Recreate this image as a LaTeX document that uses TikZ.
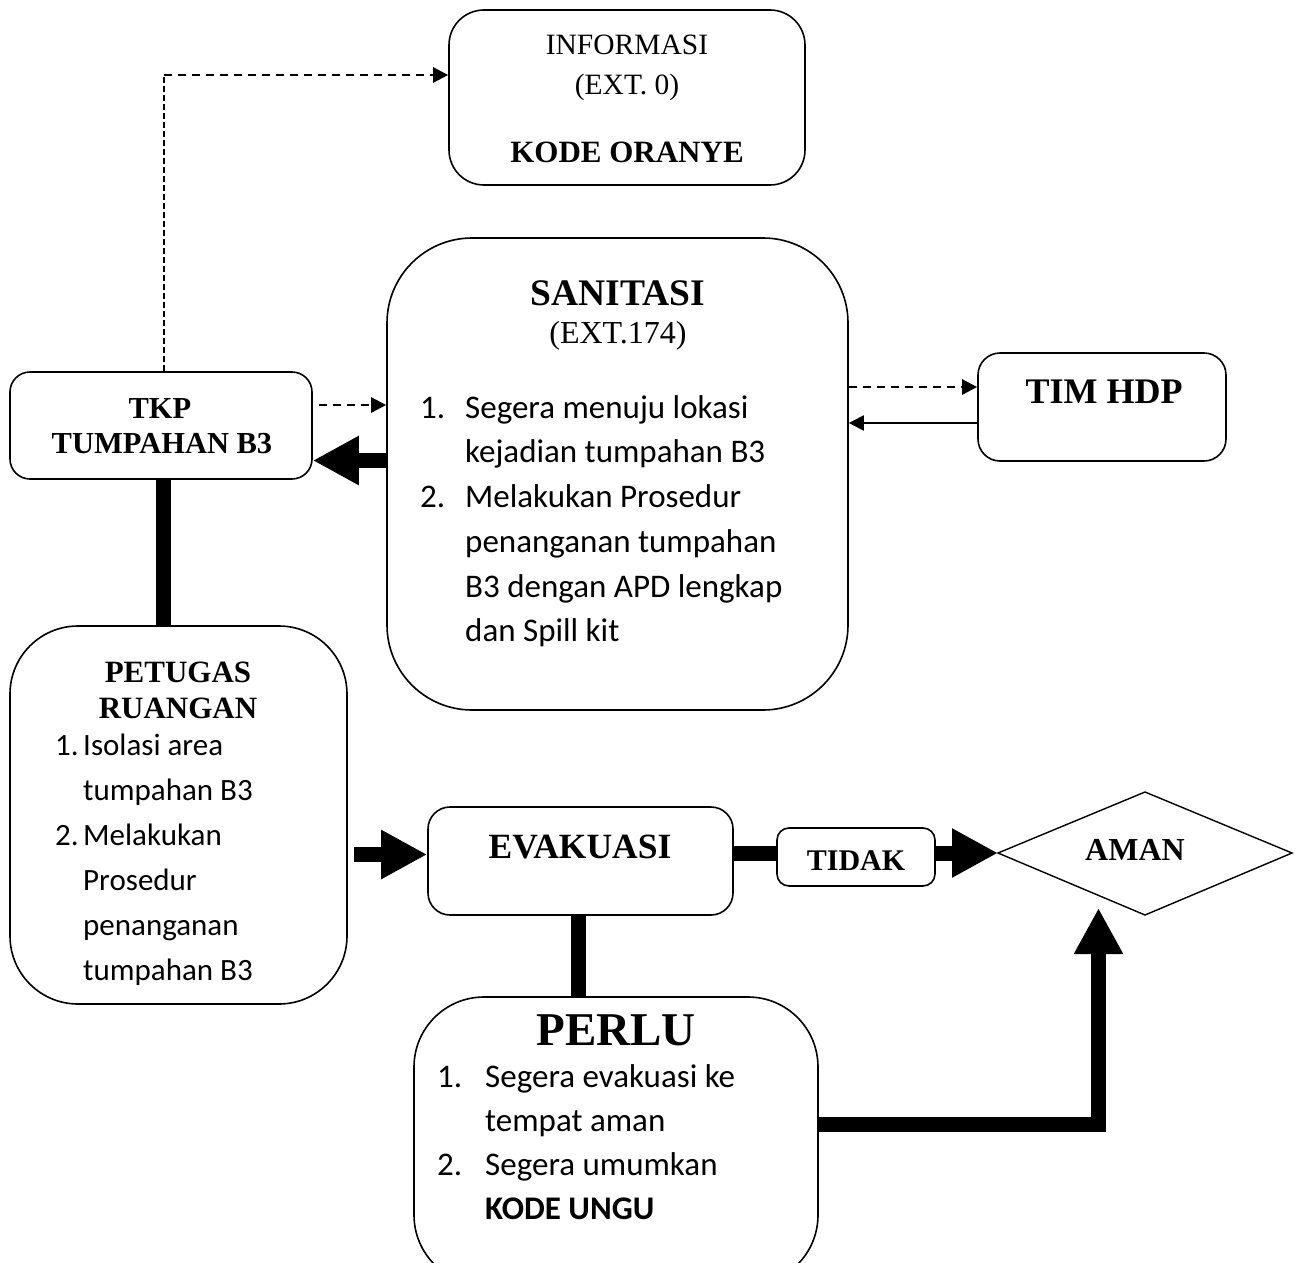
\documentclass[tikz,border=0pt]{standalone}
\usepackage{fontspec}
\setmainfont{Liberation Serif}
\newfontfamily\listfont{Carlito}
\usetikzlibrary{arrows.meta,calc}
\newcommand\setfs[1]{\fontsize{#1}{#1}\selectfont}
\begin{document}
\begin{tikzpicture}[x=1pt,y=-1pt,
  box/.style={draw, line width=1.6pt, rounded corners=#1, inner sep=0pt},
  head/.style={inner sep=0pt, anchor=base, font=\bfseries},
  plain/.style={inner sep=0pt, anchor=base},
  lst/.style={inner sep=0pt, anchor=base west, font=\listfont\setfs{#1}},
  dasharrow/.style={line width=2.4pt, dash pattern=on 8pt off 6pt,
    -{Triangle[length=15pt,width=15pt]}},
  thindash/.style={line width=1.2pt, dash pattern=on 6pt off 3pt},
  thinarrow/.style={line width=2pt, -{Triangle[length=15pt,width=15pt]}},
  bigarrow/.style={line width=15pt, -{Triangle[length=46pt,width=46pt]}},
  bigline/.style={line width=15pt}]
\useasboundingbox (0,0) rectangle (1301,1263);
\clip (0,0) rectangle (1301,1263);

% boxes
\node[box=35, minimum width=356pt, minimum height=175pt] (info) at (627,97.5) {};
\node[box=85, minimum width=461pt, minimum height=472pt] (san) at (617.5,474) {};
\node[box=22, minimum width=248pt, minimum height=108pt] (hdp) at (1102,407) {};
\node[box=20, minimum width=302pt, minimum height=107pt] (tkp) at (161,425.5) {};
\node[box=68, minimum width=337pt, minimum height=378pt] (pet) at (178.5,815) {};
\node[box=22, minimum width=305pt, minimum height=108pt] (evak) at (580.5,861) {};
\node[box=12, minimum width=158pt, minimum height=58pt] (tidak) at (856,857) {};
\node[box=70, minimum width=404pt, minimum height=288pt] (perlu) at (616,1141) {};

% decision diamond
\coordinate (aw) at (998,853);
\coordinate (an) at (1145,792);
\coordinate (ae) at (1292,853);
\coordinate (as) at (1145,915);
\draw[line width=1.4pt, line join=miter] (aw) -- (an) -- (ae) -- (as) -- cycle;
\node[head, font=\bfseries\setfs{32pt}] (aman) at (1135,860) {AMAN};

% box texts
\node[plain, font=\setfs{29.5pt}] (infoa) at (627,55) {INFORMASI};
\node[plain, font=\setfs{29.5pt}] (infob) at (627,95) {(EXT. 0)};
\node[head, font=\bfseries\setfs{31pt}] (infoc) at (627,162) {KODE ORANYE};

\node[head, font=\bfseries\setfs{37.5pt}] (sana) at (618,305) {SANITASI};
\node[plain, font=\setfs{32pt}] (sanb) at (618,343) {(EXT.174)};
\node[lst=33pt] (s1n) at (420,418) {1.};
\node[lst=33pt] (s1a) at (465,418) {Segera menuju lokasi};
\node[lst=33pt] (s1b) at (465,462) {kejadian tumpahan B3};
\node[lst=33pt] (s2n) at (420,507) {2.};
\node[lst=33pt] (s2a) at (465,507) {Melakukan Prosedur};
\node[lst=33pt] (s2b) at (465,552) {penanganan tumpahan};
\node[lst=33pt] (s2c) at (465,597) {B3 dengan APD lengkap};
\node[lst=33pt] (s2d) at (465,641) {dan Spill kit};

\node[head, font=\bfseries\setfs{36pt}] (hdpa) at (1104,403) {TIM HDP};

\node[head, font=\bfseries\setfs{30.5pt}] (tkpa) at (160,418) {TKP};
\node[head, font=\bfseries\setfs{30.5pt}] (tkpb) at (162,453) {TUMPAHAN B3};

\node[head, font=\bfseries\setfs{31pt}] (peta) at (178,682) {PETUGAS};
\node[head, font=\bfseries\setfs{31pt}] (petb) at (178,718) {RUANGAN};
\node[lst=31pt] (p1n) at (55,755) {1.};
\node[lst=31pt] (p1a) at (83,755) {Isolasi area};
\node[lst=31pt] (p1b) at (83,800) {tumpahan B3};
\node[lst=31pt] (p2n) at (55,845) {2.};
\node[lst=31pt] (p2a) at (83,845) {Melakukan};
\node[lst=31pt] (p2b) at (83,890) {Prosedur};
\node[lst=31pt] (p2c) at (83,935) {penanganan};
\node[lst=31pt] (p2d) at (83,980) {tumpahan B3};

\node[head, font=\bfseries\setfs{35.5pt}] (evaka) at (580,858) {EVAKUASI};
\node[head, font=\bfseries\setfs{30pt}] (tidaka) at (856,870) {TIDAK};

\node[head, font=\bfseries\setfs{47pt}] (perlua) at (616,1045) {PERLU};
\node[lst=33pt] (r1n) at (437,1087) {1.};
\node[lst=33pt] (r1a) at (485,1087) {Segera evakuasi ke};
\node[lst=33pt] (r1b) at (485,1131) {tempat aman};
\node[lst=33pt] (r2n) at (437,1175) {2.};
\node[lst=33pt] (r2a) at (485,1175) {Segera umumkan};
\node[lst=33pt, font=\listfont\bfseries\setfs{33pt}] (r2b) at (485,1219) {KODE UNGU};

% connectors
\coordinate (bend) at (164,75);
\draw[thindash] (tkp.north -| bend) -- (bend);
\draw[dasharrow] (bend) -- (info.west |- bend);

\draw[dasharrow] ($(tkp.east |- 0,405)+(6,0)$) -- (san.west |- 0,405);
\draw[bigarrow] (san.west |- 0,460.5) -- (tkp.east |- 0,460.5);

\draw[dasharrow] (san.east |- 0,387) -- (hdp.west |- 0,387);
\draw[thinarrow] (hdp.west |- 0,423) -- (san.east |- 0,423);

\draw[bigline] (tkp.south -| 163.5,0) -- (pet.north -| 163.5,0);

\draw[bigarrow] ($(pet.east |- 0,854.5)+(6,0)$) -- (evak.west |- 0,854.5);
\draw[bigline] (evak.east |- 0,853.5) -- (tidak.west |- 0,853.5);
\draw[bigarrow] (tidak.east |- 0,853) -- (aw);

\draw[bigline] (evak.south -| 578.5,0) -- (perlu.north -| 578.5,0);

\coordinate (amanin) at (1098.5,908);
\draw[bigarrow, line join=miter] (perlu.east |- 0,1124.5) -| (amanin);
\end{tikzpicture}
\end{document}
